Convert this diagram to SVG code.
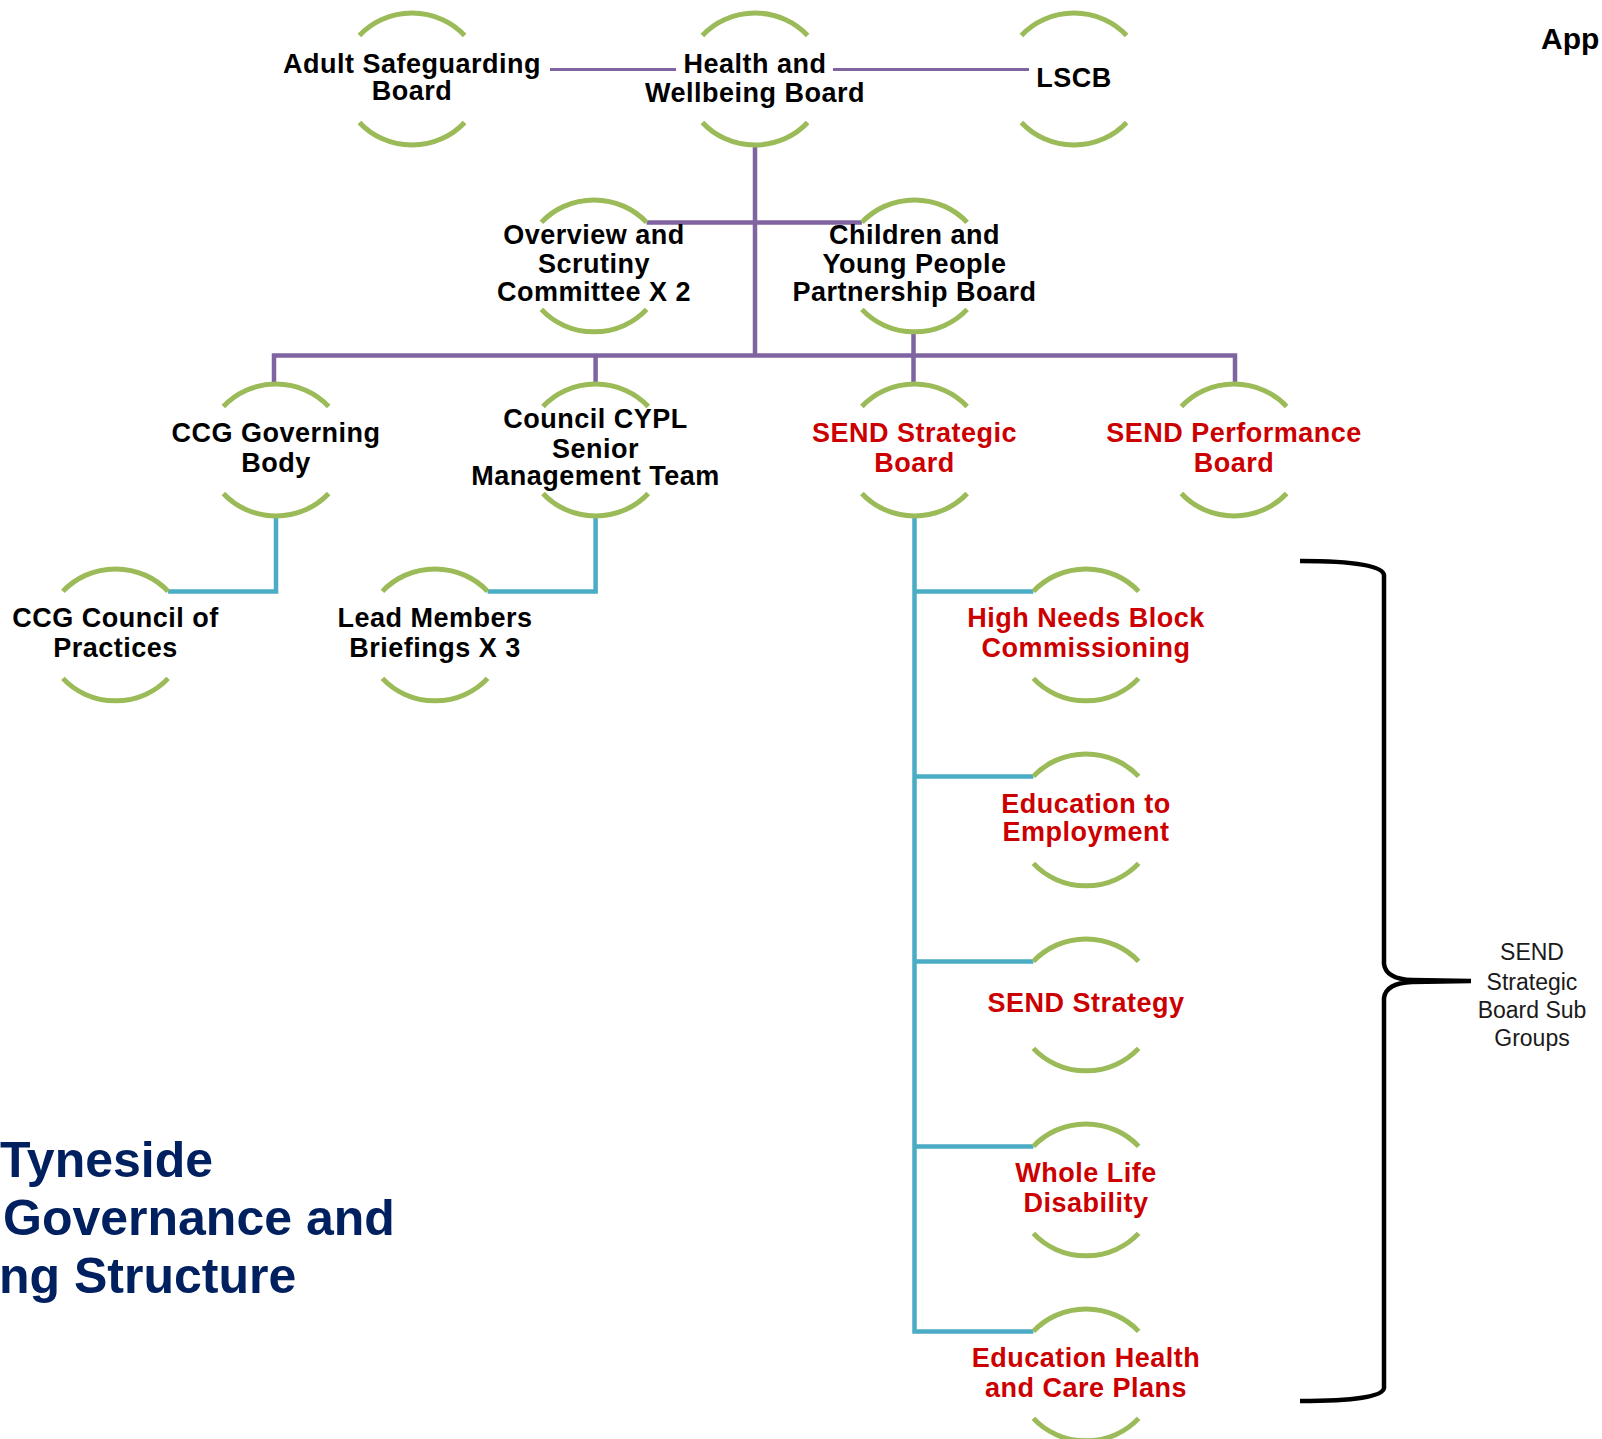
<svg xmlns="http://www.w3.org/2000/svg" width="1602" height="1439" viewBox="0 0 1602 1439">
<style>
.arc{fill:none;stroke:#9BBB59;stroke-width:5}
.t{font-family:"Liberation Sans",Arial,sans-serif;font-weight:bold;font-size:27px;letter-spacing:0.5px;text-anchor:middle;fill:#000}
.r{fill:#CC0000}
.p1{fill:none;stroke:#8064A2;stroke-width:3}
.p2{fill:none;stroke:#8064A2;stroke-width:4.5}
.b{fill:none;stroke:#4BACC6;stroke-width:4.5}
.br{fill:none;stroke:#000;stroke-width:4.5}
.lab{font-family:"Liberation Sans",Arial,sans-serif;font-size:23px;text-anchor:middle;fill:#1a1a1a}
.title{font-family:"Liberation Sans",Arial,sans-serif;font-weight:bold;font-size:50px;fill:#002060}
</style>
<defs>
<g id="ring" class="arc"><path d="M -52.6 -43.5 A 70 66 0 0 1 52.6 -43.5"/><path d="M -52.6 43.5 A 70 66 0 0 0 52.6 43.5"/></g>
</defs>
<g id="connectors">
<path class="p1" d="M 550 69.5 H 676 M 833 69.5 H 1029"/>
<path class="p2" d="M 755 145 V 355.5 M 646.6 222.4 H 861.9 M 274 384 V 355.5 H 1235 V 384 M 595.6 355.5 V 384 M 913.5 331 V 384"/>
<path class="b" d="M 276 516 V 591.4 H 168.1 M 595.6 516 V 591.4 H 487.6 M 914.5 516 V 1331.4 H 1033.4 M 914.5 591.4 H 1033.4 M 914.5 776.4 H 1033.4 M 914.5 961.4 H 1033.4 M 914.5 1146.4 H 1033.4"/>
</g>
<g id="n1"><use href="#ring" x="412" y="79"/><text class="t" x="412" y="73">Adult Safeguarding</text><text class="t" x="412" y="100">Board</text></g>
<g id="n2"><use href="#ring" x="755" y="79"/><text class="t" x="755" y="73">Health and</text><text class="t" x="755" y="102">Wellbeing Board</text></g>
<g id="n3"><use href="#ring" x="1074" y="79"/><text class="t" x="1074" y="87">LSCB</text></g>
<g id="n4"><use href="#ring" x="594" y="265.9"/><text class="t" x="594" y="244">Overview and</text><text class="t" x="594" y="272.5">Scrutiny</text><text class="t" x="594" y="301">Committee X 2</text></g>
<g id="n5"><use href="#ring" x="914.5" y="265.9"/><text class="t" x="914.5" y="244">Children and</text><text class="t" x="914.5" y="272.5">Young People</text><text class="t" x="914.5" y="301">Partnership Board</text></g>
<g id="n6"><use href="#ring" x="276" y="450"/><text class="t" x="276" y="442">CCG Governing</text><text class="t" x="276" y="472">Body</text></g>
<g id="n7"><use href="#ring" x="595.6" y="450"/><text class="t" x="595.6" y="428">Council CYPL</text><text class="t" x="595.6" y="457.5">Senior</text><text class="t" x="595.6" y="485">Management Team</text></g>
<g id="n8"><use href="#ring" x="914.5" y="450"/><text class="t r" x="914.5" y="442">SEND Strategic</text><text class="t r" x="914.5" y="472">Board</text></g>
<g id="n9"><use href="#ring" x="1234" y="450"/><text class="t r" x="1234" y="442">SEND Performance</text><text class="t r" x="1234" y="472">Board</text></g>
<g id="n10"><use href="#ring" x="115.5" y="634.9"/><text class="t" x="115.5" y="627">CCG Council of</text><text class="t" x="115.5" y="657">Practices</text></g>
<g id="n11"><use href="#ring" x="435" y="634.9"/><text class="t" x="435" y="627">Lead Members</text><text class="t" x="435" y="657">Briefings X 3</text></g>
<g id="n12"><use href="#ring" x="1086" y="634.9"/><text class="t r" x="1086" y="627">High Needs Block</text><text class="t r" x="1086" y="657">Commissioning</text></g>
<g id="n13"><use href="#ring" x="1086" y="819.9"/><text class="t r" x="1086" y="813">Education to</text><text class="t r" x="1086" y="840.5">Employment</text></g>
<g id="n14"><use href="#ring" x="1086" y="1004.9"/><text class="t r" x="1086" y="1012">SEND Strategy</text></g>
<g id="n15"><use href="#ring" x="1086" y="1189.9"/><text class="t r" x="1086" y="1182">Whole Life</text><text class="t r" x="1086" y="1211.5">Disability</text></g>
<g id="n16"><use href="#ring" x="1086" y="1374.9"/><text class="t r" x="1086" y="1367">Education Health</text><text class="t r" x="1086" y="1396.5">and Care Plans</text></g>
<g id="brace">
<path class="br" d="M 1300 561 Q 1382 561 1384 575 L 1384 964 Q 1386 979 1412 980 L 1471 981 M 1471 981 L 1412 982 Q 1386 983 1384 998 L 1384 1388 Q 1382 1401 1300 1401"/>
<text class="lab" x="1532" y="960">SEND</text>
<text class="lab" x="1532" y="989.5">Strategic</text>
<text class="lab" x="1532" y="1017.5">Board Sub</text>
<text class="lab" x="1532" y="1045.5">Groups</text>
</g>
<g id="title">
<text class="title" x="0" y="1177">Tyneside</text>
<text class="title" x="3" y="1235">Governance and</text>
<text class="title" x="-1" y="1293">ng Structure</text>
</g>
<text x="1541" y="49" style="font-family:'Liberation Sans',Arial,sans-serif;font-weight:bold;font-size:30px;fill:#000">App</text>
</svg>
